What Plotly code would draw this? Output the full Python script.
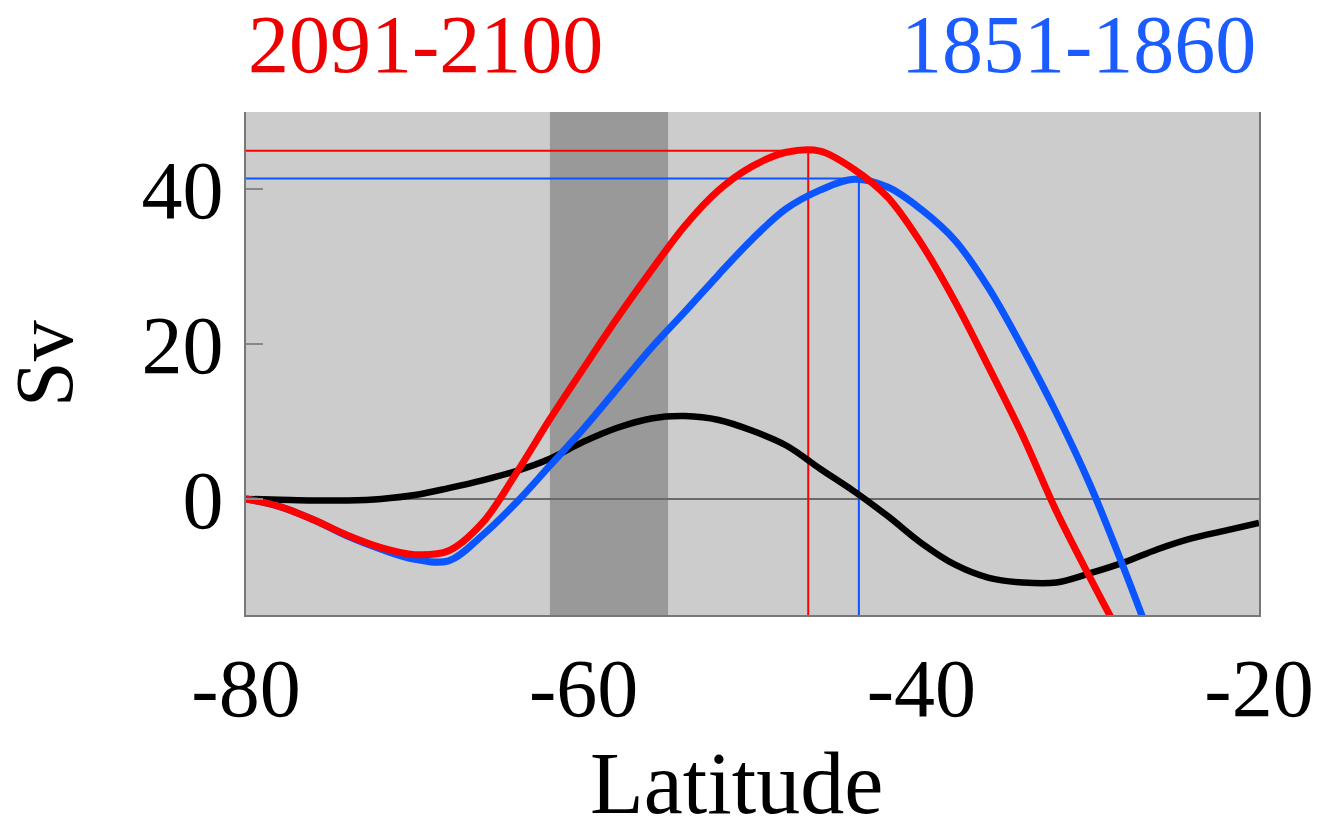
import plotly.graph_objects as go

# ---- data ----
lat_red = [-80, -78, -76, -74, -72, -70, -68, -66, -64, -62, -60, -58, -56, -54, -52,
           -50, -48, -46, -44, -42, -40, -38, -36, -34, -32, -30, -28, -26]
red_sv = [0.0, -1.0, -2.7, -4.7, -6.3, -7.2, -6.7, -3.1, 3.3, 10.3, 16.9, 23.4, 29.5, 35.3, 39.9,
          43.0, 44.8, 44.95, 42.6, 39.0, 33.0, 25.5, 17.0, 8.2, -1.6, -10.2, -18.4, -26.0]

lat_blue = [-80, -78, -76, -74, -72, -70, -68, -66, -64, -62, -60, -58, -56, -54, -52,
            -50, -48, -46, -44, -42, -40, -38, -36, -34, -32, -30, -28, -26]
blue_sv = [0.0, -1.0, -2.7, -4.8, -6.5, -7.8, -8.0, -4.7, -0.5, 4.3, 9.1, 14.3, 19.5, 24.2, 29.0,
           33.6, 37.5, 39.9, 41.3, 40.3, 37.4, 33.4, 27.2, 19.5, 11.1, 1.8, -9.0, -20.5]

lat_black = [-80, -78, -76, -74, -72, -70, -68, -66, -64, -62, -60, -58, -56, -54, -52,
             -50, -48, -46, -44, -42, -40, -38, -36, -34, -32, -30, -28, -26, -24, -22, -20]
black_sv = [0.0, -0.1, -0.2, -0.2, 0.0, 0.5, 1.4, 2.4, 3.6, 5.2, 7.4, 9.2, 10.4, 10.7, 10.2,
            8.8, 6.9, 3.9, 1.0, -2.2, -5.7, -8.5, -10.2, -10.8, -10.8, -9.6, -8.2, -6.5, -5.1, -4.1, -3.1]

peak_labels = ["2091-2100", "1851-1860"]
peak_lat = [-46.7, -43.7]
peak_sv = [45.0, 41.4]

band_lat = [-62, -55]
x_range = [-80, -20]
y_range = [-15, 50]
x_ticks = [-80, -60, -40, -20]
y_ticks = [0, 20, 40]
x_title = "Latitude"
y_title = "Sv"

RED = "#ff0000"
BLUE = "#0a55ff"
FONT = "Liberation Serif"

fig = go.Figure()

# reference lines to the maxima
for lat_p, sv_p, col in zip(peak_lat, peak_sv, [RED, BLUE]):
    fig.add_trace(go.Scatter(x=[x_range[0], lat_p, lat_p], y=[sv_p, sv_p, y_range[0]],
                             mode="lines", line=dict(color=col, width=2),
                             hoverinfo="skip", showlegend=False))

fig.add_trace(go.Scatter(x=lat_black, y=black_sv, mode="lines",
                         line=dict(color="#000000", width=6.5, shape="spline", smoothing=1.0),
                         showlegend=False))
fig.add_trace(go.Scatter(x=lat_blue, y=blue_sv, mode="lines",
                         line=dict(color=BLUE, width=7, shape="spline", smoothing=1.0),
                         showlegend=False))
fig.add_trace(go.Scatter(x=lat_red, y=red_sv, mode="lines",
                         line=dict(color=RED, width=7, shape="spline", smoothing=1.0),
                         showlegend=False))

# shaded band and zero line
fig.add_shape(type="rect", xref="x", yref="y", x0=band_lat[0], x1=band_lat[1],
              y0=y_range[0], y1=y_range[1], fillcolor="#999999", line_width=0, layer="below")
fig.add_shape(type="line", xref="x", yref="y", x0=x_range[0], x1=x_range[1], y0=0, y1=0,
              line=dict(color="#6a6a6a", width=2), layer="below")

# period labels
fig.add_annotation(text=peak_labels[0], xref="paper", yref="paper", x=0.0, y=1.04,
                   xanchor="left", yanchor="bottom", showarrow=False,
                   font=dict(family=FONT, size=82, color="#ee0000"))
fig.add_annotation(text=peak_labels[1], xref="paper", yref="paper", x=0.999, y=1.04,
                   xanchor="right", yanchor="bottom", showarrow=False,
                   font=dict(family=FONT, size=82, color="#1a5cff"))

# axis titles
fig.add_annotation(text=x_title, xref="paper", yref="paper", x=0.484, y=-0.334,
                   xanchor="center", yanchor="middle", showarrow=False,
                   font=dict(family=FONT, size=88, color="black"))
fig.add_annotation(text=y_title, xref="paper", yref="paper", x=-0.199, y=0.5,
                   xanchor="center", yanchor="middle", showarrow=False, textangle=-90,
                   font=dict(family=FONT, size=82, color="black"))

fig.update_layout(
    width=1320, height=819,
    margin=dict(l=246, r=61, t=112, b=204),
    paper_bgcolor="white", plot_bgcolor="#cccccc",
    font=dict(family=FONT, size=82, color="black"),
    showlegend=False,
)
fig.update_xaxes(range=x_range, tickvals=x_ticks, ticktext=[str(v) for v in x_ticks],
                 ticks="", showgrid=False, zeroline=False, automargin=False,
                 showline=True, linecolor="#777777", linewidth=2, mirror=False,
                 ticklabelstandoff=1, ticklabeloverflow="allow")
fig.update_yaxes(range=y_range, tickvals=y_ticks, ticktext=[str(v) for v in y_ticks],
                 ticks="inside", ticklen=17, tickwidth=2, automargin=False,
                 tickcolor="#888888", showgrid=False, zeroline=False,
                 showline=True, linecolor="#777777", linewidth=2, mirror=True,
                 ticklabelstandoff=4)

fig.write_html("out.html")
